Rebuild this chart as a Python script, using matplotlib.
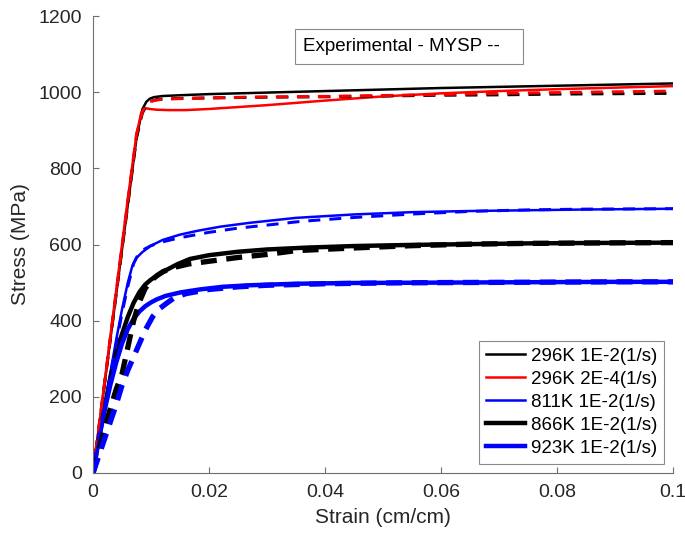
import matplotlib
matplotlib.use("Agg")
import matplotlib.pyplot as plt
from matplotlib.patches import Rectangle

plt.rcParams['font.family'] = ['Liberation Sans', 'DejaVu Sans']

# ---- 296 K, 1E-2 1/s ----
strain_296_fast_exp = [0, 0.002, 0.004, 0.006, 0.0075, 0.0085, 0.0092, 0.0098, 0.0105, 0.012,
                       0.015, 0.02, 0.03, 0.04, 0.05, 0.06, 0.07, 0.08, 0.09, 0.1]
stress_296_fast_exp = [0, 235, 470, 705, 880, 955, 975, 983, 987, 990,
                       992, 995, 999, 1003, 1007, 1011, 1014, 1017, 1020, 1023]
strain_296_fast_mod = [0, 0.002, 0.004, 0.006, 0.0075, 0.0085, 0.0092, 0.01, 0.011, 0.013,
                       0.02, 0.03, 0.04, 0.05, 0.06, 0.07, 0.08, 0.09, 0.1]
stress_296_fast_mod = [0, 235, 470, 705, 880, 945, 965, 976, 981, 983,
                       985, 987, 988, 990, 992, 993, 995, 996, 997]

# ---- 296 K, 2E-4 1/s ----
strain_296_slow_exp = [0, 0.002, 0.004, 0.006, 0.0075, 0.0083, 0.009, 0.0098, 0.011, 0.013,
                       0.016, 0.02, 0.025, 0.03, 0.04, 0.05, 0.06, 0.07, 0.08, 0.09, 0.1]
stress_296_slow_exp = [0, 240, 480, 720, 890, 945, 958, 956, 954, 953,
                       953, 956, 961, 966, 978, 989, 997, 1003, 1008, 1012, 1016]
strain_296_slow_mod = [0, 0.002, 0.004, 0.006, 0.0075, 0.0085, 0.0092, 0.0098, 0.012, 0.02,
                       0.027, 0.04, 0.053, 0.06, 0.07, 0.08, 0.09, 0.1]
stress_296_slow_mod = [0, 238, 476, 714, 890, 948, 968, 976, 982, 985,
                       987, 989, 992, 994, 997, 999, 1001, 1003]

# ---- 811 K, 1E-2 1/s ----
strain_811_exp = [0, 0.001, 0.002, 0.003, 0.004, 0.005, 0.006, 0.0068, 0.0075, 0.0085, 0.01,
                  0.012, 0.015, 0.018, 0.022, 0.027, 0.035, 0.045, 0.055, 0.065, 0.075, 0.085, 0.1]
stress_811_exp = [0, 90, 180, 265, 350, 430, 500, 545, 565, 580, 597,
                  612, 626, 636, 647, 657, 670, 679, 685, 688, 690, 692, 694]
strain_811_mod = [0, 0.001, 0.002, 0.003, 0.004, 0.005, 0.006, 0.007, 0.0078, 0.0085, 0.01,
                  0.012, 0.015, 0.02, 0.025, 0.03, 0.036, 0.045, 0.055, 0.065, 0.075, 0.085, 0.1]
stress_811_mod = [0, 85, 170, 255, 340, 420, 490, 550, 575, 585, 597,
                  607, 618, 632, 643, 651, 661, 671, 680, 687, 691, 693, 694]

# ---- 866 K, 1E-2 1/s ----
strain_866_exp = [0, 0.001, 0.002, 0.003, 0.004, 0.005, 0.006, 0.007, 0.008, 0.009, 0.01, 0.011,
                  0.0125, 0.0145, 0.0167, 0.02, 0.025, 0.03, 0.037, 0.045, 0.055, 0.065, 0.075,
                  0.085, 0.1]
stress_866_exp = [0, 90, 170, 250, 315, 365, 410, 447, 475, 495, 508, 518,
                  532, 548, 562, 572, 581, 587, 592, 596, 599, 601, 603,
                  604, 605]
strain_866_mod = [0, 0.001, 0.002, 0.003, 0.004, 0.005, 0.006, 0.007, 0.008, 0.009, 0.01, 0.011,
                  0.0121, 0.014, 0.0165, 0.02, 0.025, 0.03, 0.035, 0.045, 0.055, 0.065, 0.075,
                  0.085, 0.1]
stress_866_mod = [0, 60, 115, 170, 220, 260, 330, 400, 450, 485, 505, 518,
                  529, 540, 549, 556, 566, 574, 584, 591, 597, 601, 603,
                  604, 605]

# ---- 923 K, 1E-2 1/s ----
strain_923_exp = [0, 0.001, 0.002, 0.003, 0.004, 0.005, 0.006, 0.007, 0.008, 0.009, 0.01, 0.011,
                  0.0125, 0.015, 0.0184, 0.0224, 0.027, 0.035, 0.045, 0.06, 0.075, 0.09, 0.1]
stress_923_exp = [0, 88, 165, 232, 290, 340, 378, 405, 424, 438, 448, 456,
                  465, 474, 482, 489, 493, 497, 499, 500, 501, 502, 502]
strain_923_mod = [0, 0.001, 0.002, 0.003, 0.004, 0.005, 0.006, 0.007, 0.008, 0.009, 0.0103,
                  0.0115, 0.0128, 0.014, 0.016, 0.02, 0.025, 0.03, 0.04, 0.05, 0.06, 0.075, 0.09,
                  0.1]
stress_923_mod = [0, 45, 90, 135, 180, 230, 270, 305, 340, 375, 411,
                  432, 447, 460, 471, 482, 489, 493, 497, 499, 500, 501, 502,
                  502]

legend_labels = ["296K 1E-2(1/s)", "296K 2E-4(1/s)", "811K 1E-2(1/s)",
                 "866K 1E-2(1/s)", "923K 1E-2(1/s)"]
x_ticks = [0, 0.02, 0.04, 0.06, 0.08, 0.1]
x_tick_labels = ["0", "0.02", "0.04", "0.06", "0.08", "0.1"]
y_ticks = [0, 200, 400, 600, 800, 1000, 1200]
y_tick_labels = ["0", "200", "400", "600", "800", "1000", "1200"]
note_text = "Experimental - MYSP --"

BLACK, RED, BLUE = "#000000", "#ff0000", "#0000ff"
THIN, THICK = 1.8, 3.2
dash_thin = (4.0, 3.0)
dash_thick = (3.0, 1.8)

fig = plt.figure(figsize=(6.85, 5.35), dpi=100)
ax = fig.add_axes([0.1358, 0.1159, 0.8467, 0.8541])

series = [
    (strain_296_fast_exp, stress_296_fast_exp, strain_296_fast_mod, stress_296_fast_mod, BLACK, THIN),
    (strain_296_slow_exp, stress_296_slow_exp, strain_296_slow_mod, stress_296_slow_mod, RED, THIN),
    (strain_811_exp, stress_811_exp, strain_811_mod, stress_811_mod, BLUE, THIN),
    (strain_866_exp, stress_866_exp, strain_866_mod, stress_866_mod, BLACK, THICK),
    (strain_923_exp, stress_923_exp, strain_923_mod, stress_923_mod, BLUE, THICK),
]

handles = []
for (xe, ye, xm, ym, c, lw), lab in zip(series, legend_labels):
    h, = ax.plot(xe, ye, color=c, lw=lw, solid_joinstyle='round', label=lab)
    handles.append(h)
for (xe, ye, xm, ym, c, lw) in series:
    dash = dash_thin if lw == THIN else dash_thick
    ax.plot(xm, ym, color=c, lw=lw * 1.2, linestyle=(0, dash))

ax.set_xlim(0, 0.1)
ax.set_ylim(0, 1200)
ax.set_xticks(x_ticks)
ax.set_xticklabels(x_tick_labels)
ax.set_yticks(y_ticks)
ax.set_yticklabels(y_tick_labels)

for side in ("top", "right"):
    ax.spines[side].set_visible(False)
for side in ("left", "bottom"):
    ax.spines[side].set_color("#6e6e6e")
    ax.spines[side].set_linewidth(0.8)
ax.tick_params(direction="in", length=4, width=0.8, color="#6e6e6e",
               labelsize=14, labelcolor="#262626", pad=8)

ax.set_xlabel("Strain (cm/cm)", fontsize=15, color="#262626", labelpad=5)
ax.set_ylabel("Stress (MPa)", fontsize=15, color="#262626", labelpad=6)

leg = ax.legend(handles=handles, loc="lower right", fontsize=13.5, frameon=True,
                fancybox=False, framealpha=1, edgecolor="#8a8a8a",
                handlelength=2.1, handletextpad=0.3, labelspacing=0.32,
                borderpad=0.35, borderaxespad=0.5)
leg.get_frame().set_linewidth(0.8)

ax.add_patch(Rectangle((0.348, 0.895), 0.393, 0.0765, transform=ax.transAxes,
                       facecolor="white", edgecolor="#8a8a8a", lw=0.8, zorder=5))
ax.text(0.362, 0.933, note_text, transform=ax.transAxes, fontsize=13.5,
        ha="left", va="center", color="#000000", zorder=6)

fig.savefig("out.png", dpi=100)
